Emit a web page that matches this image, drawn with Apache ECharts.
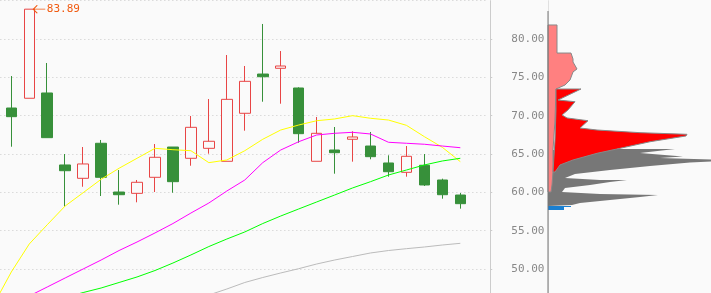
<!DOCTYPE html>
<html>
<head>
<meta charset="utf-8">
<script src="https://cdn.jsdelivr.net/npm/echarts@6/dist/echarts.min.js"></script>
<style>
html, body { margin: 0; padding: 0; background: #fafafa; }
#main { width: 711px; height: 293px; }
</style>
</head>
<body>
<div id="main"></div>
<script>
// first and last slots are empty, they only carry the moving averages past the edges
var categories = ['', 'D01', 'D02', 'D03', 'D04', 'D05', 'D06', 'D07', 'D08', 'D09', 'D10', 'D11', 'D12', 'D13',
    'D14', 'D15', 'D16', 'D17', 'D18', 'D19', 'D20', 'D21', 'D22', 'D23', 'D24', 'D25', 'D26', ''];

var open  = [71.00, 72.27, 72.96, 63.57, 61.83, 66.40, 60.04, 59.87, 61.96, 65.91, 64.44, 65.74, 64.05, 70.31, 75.43, 76.18, 73.61, 64.05, 65.52, 66.92, 66.04, 63.83, 62.61, 63.53, 61.61, 59.65];
var close = [69.87, 83.89, 67.13, 62.82, 63.70, 61.96, 59.69, 61.31, 64.57, 61.39, 68.48, 66.66, 72.13, 74.48, 75.08, 76.48, 67.65, 67.70, 65.17, 67.22, 64.65, 62.69, 64.70, 60.96, 59.69, 58.52];
var low   = [65.95, 72.27, 67.13, 58.13, 60.73, 59.52, 58.39, 58.70, 60.04, 59.95, 63.47, 65.04, 64.05, 68.04, 71.82, 71.56, 66.47, 64.05, 62.43, 64.00, 64.31, 62.04, 62.04, 60.83, 59.17, 57.87];
var high  = [75.17, 83.89, 76.87, 65.00, 65.91, 66.83, 62.91, 61.61, 66.30, 65.91, 69.96, 72.17, 77.91, 76.48, 81.96, 78.43, 73.70, 69.83, 68.52, 67.96, 67.87, 64.83, 66.04, 65.00, 61.78, 59.91];

var ma5  = [45.30, 49.61, 53.26, 55.77, 58.22, 59.95, 61.70, 63.14, 64.44, 65.74, 65.56, 65.43, 63.87, 64.22, 65.43,
    66.92, 68.13, 68.78, 69.34, 69.57, 70.00, 69.66, 69.43, 68.74, 67.26, 65.87, 64.00, '-'];
var ma10 = ['-', 45.30, 46.48, 47.65, 48.83, 50.00, 51.17, 52.41, 53.52, 54.70, 55.93, 57.30, 58.61, 60.17, 61.61,
    63.87, 65.52, 66.60, 67.48, 67.70, 67.83, 67.61, 66.53, 66.40, 66.27, 66.04, 65.82, '-'];
var ma20 = ['-', '-', '-', 45.57, 46.28, 46.93, 47.52, 48.24, 48.96, 49.80, 50.78, 51.83, 52.93, 53.91, 54.83,
    55.93, 56.91, 57.83, 58.74, 59.65, 60.57, 61.39, 62.26, 62.91, 63.57, 64.09, 64.44, '-'];
var ma60 = ['-', '-', '-', '-', '-', '-', '-', '-', '-', '-', '-', 45.83, 46.61, 47.39, 48.24,
    48.89, 49.48, 50.04, 50.65, 51.17, 51.63, 52.09, 52.41, 52.65, 52.87, 53.13, 53.35, '-'];

var priceTicks = [45, 85, 5];

// chip profile outlines, [volume, price]
var profileBase = [[0, 83.65], [0, 45]];
var profilePink = [[0, 81.83], [9, 81.83], [9, 78.17], [23, 78.17], [25, 77.39], [25, 77.00], [29, 76.09], [25, 75.70],
    [22, 74.65], [17, 74.00], [8, 73.48], [7, 69.43], [5, 65.52], [5, 62.65], [4, 60.96], [3, 60.04], [0, 60.04]];
var profileRed = [[8, 73.48], [33, 73.48], [10, 72.04], [27, 71.82], [20, 70.74], [14, 70.09], [19, 69.70], [40, 69.34],
    [32, 68.39], [49, 68.13], [92, 67.78], [139, 67.57], [138, 67.35], [102, 66.60], [72, 65.74], [49, 65.09],
    [25, 64.22], [12, 63.57], [7, 62.65], [5, 62.65], [7, 66.83], [8, 70.74]];
var profileGray = [[5, 65.52], [52, 65.65], [127, 65.65], [92, 65.13], [135, 64.67], [112, 64.48], [163, 64.28],
    [163, 64.02], [142, 63.89], [102, 63.43], [62, 62.91], [27, 62.39], [17, 61.87], [52, 61.61], [79, 61.61],
    [62, 61.35], [42, 60.96], [17, 60.57], [14, 60.04], [52, 59.78], [110, 59.65], [92, 59.39], [62, 59.00],
    [32, 58.61], [24, 58.35], [0, 58.22], [0, 65.52]];
var profileBlue = [[0, 58.22], [23, 58.22], [23, 58.09], [16, 58.09], [16, 57.70], [0, 57.70]];

var candles = ['-'];
for (var i = 0; i < open.length; i++) {
    candles.push([open[i], close[i], low[i], high[i]]);
}
candles.push('-');

function polygonSeries(pts, fill, stroke) {
    return {
        type: 'custom',
        xAxisIndex: 1,
        yAxisIndex: 1,
        data: pts,
        encode: { x: 0, y: 1 },
        silent: true,
        renderItem: function (params, api) {
            if (params.dataIndex !== 0) return;
            return {
                type: 'polygon',
                shape: { points: pts.map(function (p) { return api.coord(p); }) },
                style: { fill: fill, stroke: stroke, lineWidth: stroke ? 1 : 0 }
            };
        }
    };
}

function maLine(name, data, color) {
    return {
        name: name,
        type: 'line',
        data: data,
        symbol: 'none',
        silent: true,
        lineStyle: { color: color, width: 1 }
    };
}

var myChart = echarts.init(document.getElementById('main'));
var option = {
    animation: false,
    backgroundColor: '#fafafa',
    grid: [
        { left: -15.64, width: 502.9, top: 0.67, bottom: -14.33, outerBoundsMode: 'none', containLabel: false },
        { left: 548, right: 0, top: 0.67, bottom: -14.33, outerBoundsMode: 'none', containLabel: false }
    ],
    xAxis: [
        { type: 'category', data: categories, boundaryGap: true, show: false },
        { type: 'value', gridIndex: 1, min: 0, max: 163, show: false }
    ],
    yAxis: [
        {
            type: 'value',
            position: 'right',
            offset: 3,
            min: priceTicks[0],
            max: priceTicks[1],
            interval: priceTicks[2],
            axisLine: { show: true, lineStyle: { color: '#cccccc' } },
            axisTick: { show: true, length: 2, lineStyle: { color: '#cccccc' } },
            axisLabel: {
                margin: 21,
                showMaxLabel: false,
                color: '#888',
                fontFamily: 'DejaVu Sans Mono',
                fontSize: 11,
                formatter: function (v) { return v.toFixed(2); }
            },
            splitLine: { show: true, lineStyle: { color: '#cacaca', type: [1, 3] } }
        },
        {
            type: 'value',
            gridIndex: 1,
            min: priceTicks[0],
            max: priceTicks[1],
            axisLine: { show: true, lineStyle: { color: '#e0e0e0' } },
            axisTick: { show: false },
            axisLabel: { show: false },
            splitLine: { show: false }
        }
    ],
    series: [
        {
            type: 'candlestick',
            data: candles,
            barWidth: 11,
            silent: true,
            itemStyle: {
                color: '#fafafa',
                color0: '#37903a',
                borderColor: '#e84545',
                borderColor0: '#37903a',
                borderWidth: 1
            },
            markPoint: {
                symbol: 'path://M4,0 L0,4 L4,8 M0,4 L12,4',
                symbolSize: [12, 8],
                symbolOffset: [10, 0],
                itemStyle: { color: 'transparent', borderColor: '#f05a10', borderWidth: 1 },
                label: {
                    position: 'right',
                    distance: 1,
                    color: '#f05a10',
                    fontFamily: 'DejaVu Sans Mono',
                    fontSize: 11,
                    formatter: function (p) { return p.value.toFixed(2); }
                },
                data: [{ type: 'max', valueDim: 'highest' }]
            }
        },
        maLine('MA5', ma5, '#ffff00'),
        maLine('MA10', ma10, '#ff00ff'),
        maLine('MA20', ma20, '#00ff00'),
        maLine('MA60', ma60, '#bbbbbb'),
        polygonSeries(profileGray, '#777777', null),
        polygonSeries(profilePink, '#ff8080', '#888888'),
        polygonSeries(profileRed, '#ff0000', '#888888'),
        polygonSeries(profileBlue, '#1a7fd0', null),
        {
            type: 'line',
            xAxisIndex: 1,
            yAxisIndex: 1,
            data: profileBase,
            symbol: 'none',
            silent: true,
            lineStyle: { color: '#777777', width: 1 }
        }
    ]
};
myChart.setOption(option);
</script>
</body>
</html>
